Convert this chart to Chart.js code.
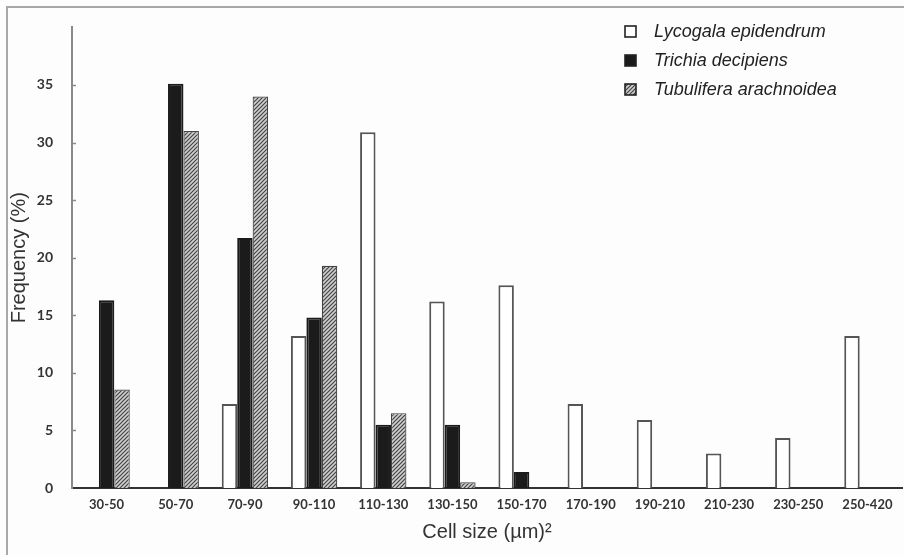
<!DOCTYPE html>
<html>
<head>
<meta charset="utf-8">
<script src="https://cdn.jsdelivr.net/npm/chart.js@4/dist/chart.umd.min.js"></script>
<style>
  html, body { margin: 0; padding: 0; background: #fdfdfd; }
  #wrap { position: relative; width: 904px; height: 555px; overflow: hidden; }
  #frame { position: absolute; left: 6px; top: 6px; width: 940px; height: 600px;
           border-top: 2px solid #a8a8a8; border-left: 2px solid #a8a8a8; }
  #wrap canvas { position: absolute; left: 0; top: 0; }
</style>
</head>
<body>
<div id="wrap">
  <div id="frame"></div>
  <canvas id="chart" width="904" height="555"></canvas>
</div>
<script>
// Size classes, cell size (µm)²
const categories = ['30-50', '50-70', '70-90', '90-110', '110-130', '130-150',
  '150-170', '170-190', '190-210', '210-230', '230-250', '250-420'];

// Frequency (%) per class (null = no bar)
const lycogala   = [null, null, 7.3, 13.2, 30.9, 16.2, 17.6, 7.3, 5.9, 3.0, 4.35, 13.2];
const trichia    = [16.3, 35.1, 21.7, 14.8, 5.5, 5.5, 1.4, null, null, null, null, null];
const tubulifera = [8.55, 31.0, 34.0, 19.3, 6.5, 0.5, null, null, null, null, null, null];

const seriesNames = ['Lycogala epidendrum', 'Trichia decipiens', 'Tubulifera arachnoidea'];
const yTickValues = [0, 5, 10, 15, 20, 25, 30, 35];
const yMax = 40;

// diagonal hatch used for Tubulifera
function hatchPattern() {
  const p = document.createElement('canvas');
  p.width = 4; p.height = 4;
  const g = p.getContext('2d');
  g.fillStyle = '#cfcfcf';
  g.fillRect(0, 0, 4, 4);
  g.strokeStyle = '#444';
  g.lineWidth = 1.2;
  g.beginPath();
  g.moveTo(0, 4); g.lineTo(4, 0);
  g.moveTo(-1, 1); g.lineTo(1, -1);
  g.moveTo(3, 5); g.lineTo(5, 3);
  g.stroke();
  return g.createPattern(p, 'repeat');
}
const hatch = hatchPattern();

// small inward tick marks on the y axis
const innerTicks = {
  id: 'innerTicks',
  afterDraw(chart) {
    const y = chart.scales.y, ctx = chart.ctx;
    const x0 = chart.chartArea.left;
    ctx.save();
    ctx.strokeStyle = '#8a8a8a';
    ctx.lineWidth = 1.5;
    yTickValues.forEach(v => {
      if (v === 0) return;
      const py = Math.round(y.getPixelForValue(v)) + 0.5;
      ctx.beginPath();
      ctx.moveTo(x0, py);
      ctx.lineTo(x0 + 4, py);
      ctx.stroke();
    });
    ctx.restore();
  },
};

// vertical legend, top right
const boxLegend = {
  id: 'boxLegend',
  afterDraw(chart) {
    const ctx = chart.ctx;
    ctx.save();
    ctx.font = 'italic 18px "Liberation Sans", Arial, sans-serif';
    ctx.textBaseline = 'middle';
    chart.data.datasets.forEach((ds, i) => {
      const cy = 31 + i * 29;
      ctx.fillStyle = ds.backgroundColor;
      ctx.fillRect(625, cy - 5, 11, 11);
      ctx.strokeStyle = '#222';
      ctx.lineWidth = 1.6;
      ctx.strokeRect(625, cy - 5, 11, 11);
      ctx.fillStyle = '#222';
      ctx.fillText(ds.label, 654, cy + 1);
    });
    ctx.restore();
  },
};

const barBase = { borderColor: '#3a3a3a', borderWidth: 2, categoryPercentage: 0.67, barPercentage: 1.0 };

new Chart(document.getElementById('chart'), {
  type: 'bar',
  data: {
    labels: categories,
    datasets: [
      { ...barBase, label: seriesNames[0], data: lycogala, backgroundColor: '#ffffff', borderColor: '#555' },
      { ...barBase, label: seriesNames[1], data: trichia, backgroundColor: '#1b1b1b', borderColor: '#1b1b1b' },
      { ...barBase, label: seriesNames[2], data: tubulifera, backgroundColor: hatch, borderColor: '#444', borderWidth: 1.2 },
    ],
  },
  options: {
    responsive: false,
    animation: false,
    layout: { padding: { top: 18, right: 2, left: 0, bottom: 0 } },
    plugins: { legend: { display: false }, tooltip: { enabled: false } },
    scales: {
      x: {
        grid: { display: false, drawTicks: false },
        border: { color: '#333', width: 2 },
        ticks: { color: '#333', padding: 9, maxRotation: 0, autoSkip: false,
                 font: { family: 'Lato, "Open Sans", sans-serif', size: 13, weight: 'bold' } },
        title: { display: true, text: 'Cell size (µm)²', color: '#333',
                 font: { family: '"Liberation Sans", Arial, sans-serif', size: 20 },
                 padding: { top: 0, bottom: 11 } },
        afterFit(s) { s.height = 67; },
      },
      y: {
        min: 0, max: yMax,
        grid: { display: false, drawTicks: false },
        border: { color: '#8a8a8a', width: 2 },
        afterBuildTicks(s) { s.ticks = yTickValues.map(v => ({ value: v })); },
        ticks: { color: '#333', padding: 19,
                 font: { family: 'Lato, "Open Sans", sans-serif', size: 14, weight: 'bold' } },
        title: { display: true, text: 'Frequency (%)', color: '#333',
                 font: { family: '"Liberation Sans", Arial, sans-serif', size: 20 },
                 padding: { top: 7, bottom: 0 } },
        afterFit(s) { s.width = 72; },
      },
    },
  },
  plugins: [innerTicks, boxLegend],
});
</script>
</body>
</html>
